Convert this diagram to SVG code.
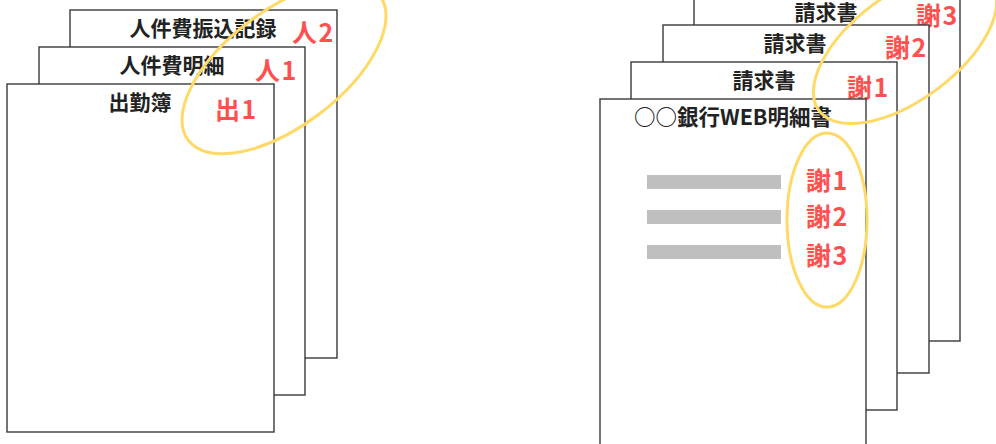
<svg xmlns="http://www.w3.org/2000/svg" width="996" height="444" viewBox="0 0 996 444">
<style>
.page{fill:#fff;stroke:#3a3a3a;stroke-width:1.4}
.title{font-family:"Noto Sans CJK JP","Noto Sans",sans-serif;font-weight:700;font-size:21px;fill:#222;text-anchor:middle}
.wide{font-size:21.5px}
.tag{font-family:"Noto Sans CJK JP","Noto Sans",sans-serif;font-weight:700;font-size:25px;letter-spacing:1.5px;fill:#FF5050}
.bar{fill:#BFBFBF}
.ring{fill:none;stroke:#FFD966;stroke-width:3}
</style>
<rect width="996" height="444" fill="#fff"/>
<g id="left-stack">
  <g id="page-jinkenhi-furikomi">
    <rect class="page" x="70" y="10" width="267" height="348"/>
    <text class="title" x="203" y="36">人件費振込記録</text>
    <text class="tag" x="292" y="42">人2</text>
  </g>
  <g id="page-jinkenhi-meisai">
    <rect class="page" x="39" y="47" width="266" height="348"/>
    <text class="title" x="172" y="73">人件費明細</text>
    <text class="tag" x="255" y="80">人1</text>
  </g>
  <g id="page-shukkinbo">
    <rect class="page" x="7" y="84" width="267" height="348"/>
    <text class="title" x="140" y="110">出勤簿</text>
    <text class="tag" x="215" y="119">出1</text>
  </g>
</g>
<g id="right-stack">
  <g id="page-seikyusho-3">
    <rect class="page" x="694" y="-7" width="266" height="348"/>
    <text class="title" x="826" y="20">請求書</text>
    <text class="tag" x="916" y="25">謝3</text>
  </g>
  <g id="page-seikyusho-2">
    <rect class="page" x="663" y="25" width="266" height="348"/>
    <text class="title" x="795" y="51">請求書</text>
    <text class="tag" x="885" y="57">謝2</text>
  </g>
  <g id="page-seikyusho-1">
    <rect class="page" x="631" y="62" width="266" height="348"/>
    <text class="title" x="764" y="88">請求書</text>
    <text class="tag" x="847" y="97">謝1</text>
  </g>
  <g id="page-bank-web">
    <rect class="page" x="600" y="99" width="266" height="348"/>
    <text class="title wide" x="733" y="125">○○銀行WEB明細書</text>
    <rect class="bar" x="647" y="175" width="134" height="14"/>
    <rect class="bar" x="647" y="210" width="134" height="14"/>
    <rect class="bar" x="647" y="245" width="134" height="14"/>
    <text class="tag" x="806" y="190">謝1</text>
    <text class="tag" x="806" y="226">謝2</text>
    <text class="tag" x="806" y="265">謝3</text>
  </g>
</g>
<g id="connectors">
  <ellipse class="ring" cx="284" cy="68" rx="120" ry="58" transform="rotate(-37 284 68)"/>
  <ellipse class="ring" cx="905" cy="47" rx="107" ry="53" transform="rotate(-36.5 905 47)"/>
  <ellipse class="ring" cx="827" cy="220" rx="40" ry="87"/>
</g>
</svg>
